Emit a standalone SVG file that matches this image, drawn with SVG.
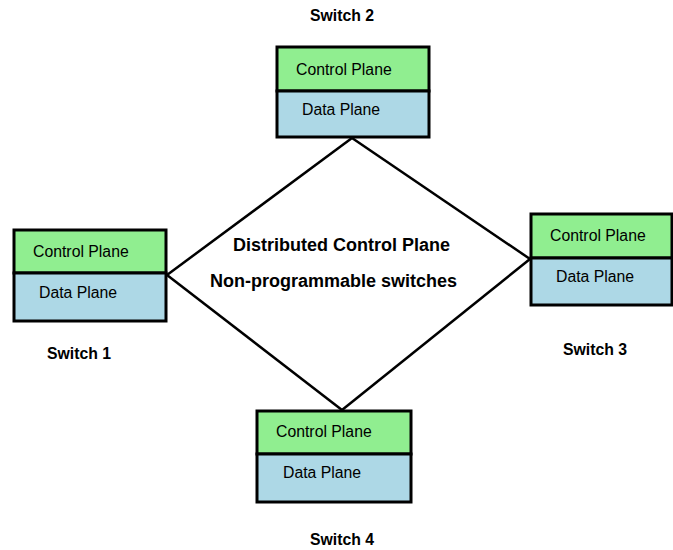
<svg xmlns="http://www.w3.org/2000/svg" width="673" height="550" viewBox="0 0 673 550">
  <style>
    .cp { fill: #90ee90; stroke: #000; stroke-width: 3; }
    .dp { fill: #add8e6; stroke: #000; stroke-width: 3; }
    .lbl { font-family: "Liberation Sans", Arial, sans-serif; font-size: 15.8px; fill: #000; }
    .name { font-family: "Liberation Sans", Arial, sans-serif; font-size: 15.8px; font-weight: bold; fill: #000; }
    .center { font-family: "Liberation Sans", Arial, sans-serif; font-size: 18px; font-weight: bold; fill: #000; }
    .link { stroke: #000; stroke-width: 2.5; fill: none; }
  </style>
  <rect width="673" height="550" fill="#fff"/>

  <!-- links between switches -->
  <g id="connectors">
    <line class="link" x1="352" y1="138" x2="530" y2="259"/>
    <line class="link" x1="530" y1="259" x2="342" y2="410"/>
    <line class="link" x1="342" y1="410" x2="167" y2="275"/>
    <line class="link" x1="167" y1="275" x2="352" y2="138"/>
  </g>

  <g id="switch2">
    <rect class="cp" x="277" y="47" width="152" height="44"/>
    <rect class="dp" x="277" y="91" width="152" height="46"/>
    <text class="lbl" x="296" y="75">Control Plane</text>
    <text class="lbl" x="302" y="115">Data Plane</text>
    <text class="name" x="310" y="21">Switch 2</text>
  </g>

  <g id="switch1">
    <rect class="cp" x="14" y="230" width="152" height="43"/>
    <rect class="dp" x="14" y="273" width="152" height="48"/>
    <text class="lbl" x="33" y="257">Control Plane</text>
    <text class="lbl" x="39" y="298">Data Plane</text>
    <text class="name" x="47" y="359">Switch 1</text>
  </g>

  <g id="switch3">
    <rect class="cp" x="531" y="214" width="141" height="44"/>
    <rect class="dp" x="531" y="258" width="141" height="47"/>
    <text class="lbl" x="550" y="241">Control Plane</text>
    <text class="lbl" x="556" y="282">Data Plane</text>
    <text class="name" x="563" y="355">Switch 3</text>
  </g>

  <g id="switch4">
    <rect class="cp" x="257" y="411" width="154" height="43"/>
    <rect class="dp" x="257" y="454" width="154" height="48"/>
    <text class="lbl" x="276" y="437">Control Plane</text>
    <text class="lbl" x="283" y="478">Data Plane</text>
    <text class="name" x="310" y="545">Switch 4</text>
  </g>

  <g id="caption">
    <text class="center" x="233" y="251">Distributed Control Plane</text>
    <text class="center" x="210" y="287">Non-programmable switches</text>
  </g>
</svg>
